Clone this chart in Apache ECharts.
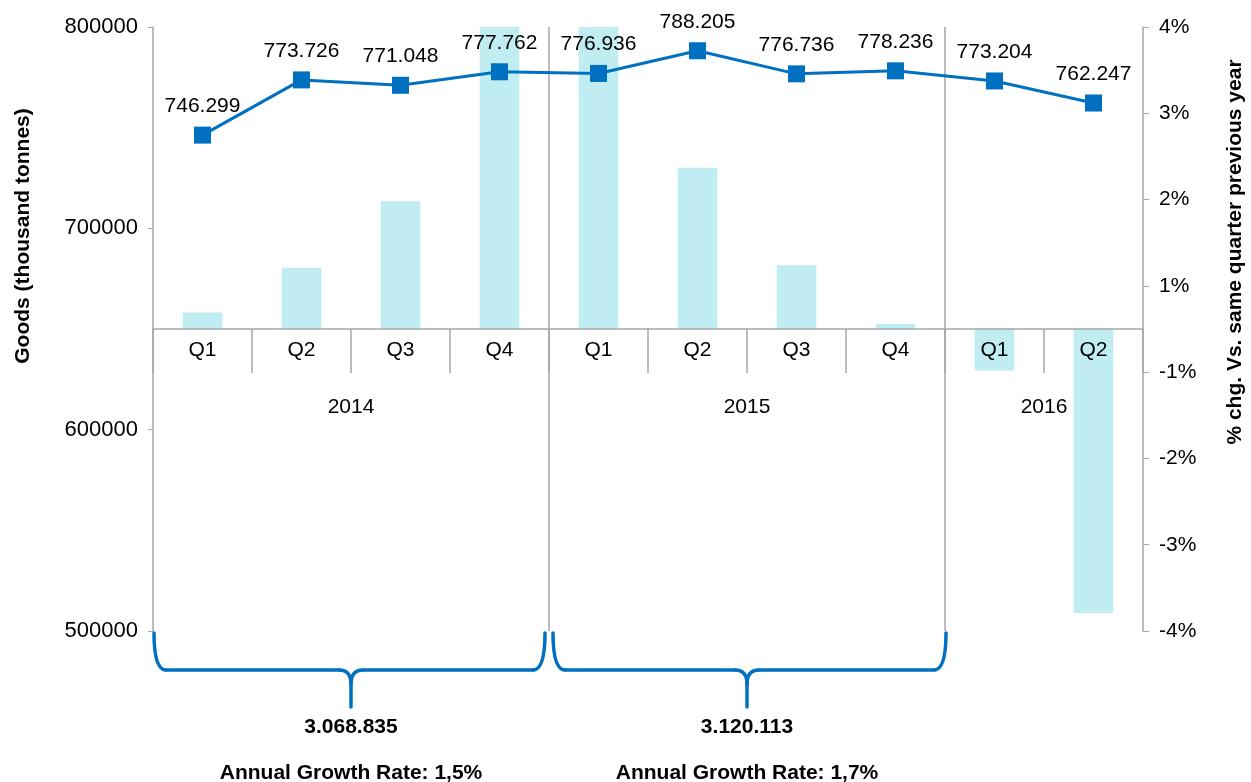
<!DOCTYPE html>
<html>
<head>
<meta charset="utf-8">
<script src="https://cdn.jsdelivr.net/npm/echarts@6/dist/echarts.min.js"></script>
<style>
html, body { margin: 0; padding: 0; background: #fff; }
#chart { width: 1251px; height: 782px; }
</style>
</head>
<body>
<div id="chart"></div>
<script>
// data
const quarters = ['Q1', 'Q2', 'Q3', 'Q4', 'Q1', 'Q2', 'Q3', 'Q4', 'Q1', 'Q2'];
const goods = [746299, 773726, 771048, 777762, 776936, 788205, 776736, 778236, 773204, 762247];
const growthPct = [0.19, 0.71, 1.48, 3.63, 4.10, 1.87, 0.74, 0.06, -0.48, -3.29];
const years = ['2014', '2015', '2016'];
const yearStart = [0, 4, 8];
const yearEnd = [3, 7, 9];
const annualTotals = ['3.068.835', '3.120.113'];
const annualGrowth = ['Annual Growth Rate: 1,5%', 'Annual Growth Rate: 1,7%'];
const rightTickLabels = ['-4%', '-3%', '-2%', '-1%', '1%', '2%', '3%', '4%'];

const font = 'Liberation Sans';
const gray = '#A6A6A6';
const blue = '#0070C0';

function dotted(v) {
  return String(v).replace(/\B(?=(\d{3})+(?!\d))/g, '.');
}

var chart = echarts.init(document.getElementById('chart'));
chart.setOption({
  animation: false,
  textStyle: { fontFamily: font },
  grid: { left: 153, right: 108, top: 27, bottom: 151 },
  xAxis: [{
    type: 'category',
    data: quarters,
    position: 'bottom',
    z: 5,
    axisLine: { onZero: false, lineStyle: { color: gray, width: 1.5 } },
    axisTick: { show: true, alignWithLabel: false, length: 44, lineStyle: { color: gray, width: 1.5 } },
    axisLabel: { color: '#000', fontSize: 21, margin: 11, interval: 0 }
  }],
  yAxis: [{
    type: 'value',
    position: 'left',
    min: 500000, max: 800000, interval: 100000,
    axisLine: { show: true, lineStyle: { color: gray, width: 1.5 } },
    axisTick: { show: true, length: 5, lineStyle: { color: gray } },
    axisLabel: { color: '#000', fontSize: 22, margin: 15,
      formatter: function (v) { return String(v); } },
    splitLine: { show: false }
  }, {
    type: 'value',
    position: 'right',
    min: -3.5, max: 3.5, interval: 1,
    axisLine: { show: true, lineStyle: { color: gray, width: 1.5 } },
    axisTick: { show: true, length: 6, lineStyle: { color: gray } },
    axisLabel: {
      color: '#000', fontSize: 21, margin: 16,
      formatter: function (v) { return rightTickLabels[Math.round(v + 3.5)]; }
    },
    splitLine: { show: false }
  }],
  series: [{
    type: 'bar',
    yAxisIndex: 1,
    data: growthPct,
    barWidth: '40%',
    itemStyle: { color: '#BFEDF1' },
    z: 2
  }, {
    type: 'line',
    yAxisIndex: 0,
    data: goods,
    symbol: 'rect',
    symbolSize: 17,
    lineStyle: { color: blue, width: 3 },
    itemStyle: { color: blue },
    label: {
      show: true, position: 'top', distance: 10,
      fontSize: 21, color: '#000',
      formatter: function (p) { return dotted(p.value); }
    },
    z: 4
  }]
});

function px(i) { return chart.convertToPixel({ xAxisIndex: 0 }, i); }
var band = px(1) - px(0);
var zeroY = chart.convertToPixel({ yAxisIndex: 1 }, 0);
var topY = chart.convertToPixel({ yAxisIndex: 0 }, 800000);
var botY = chart.convertToPixel({ yAxisIndex: 0 }, 500000);

// lift the quarter axis up to the 0% line of the right axis
chart.setOption({ xAxis: [{ offset: zeroY - botY }] });

// annotations: year separators, year labels, braces and totals
function seg(x1, y1, x2, y2) {
  return { type: 'line', shape: { x1: x1, y1: y1, x2: x2, y2: y2 },
    style: { stroke: blue, lineWidth: 3.5, lineCap: 'round' } };
}
function curve(x1, y1, cx, cy, x2, y2) {
  return { type: 'bezierCurve', shape: { x1: x1, y1: y1, cpx1: cx, cpy1: cy, x2: x2, y2: y2 },
    style: { stroke: blue, lineWidth: 3.5, fill: null, lineCap: 'round' } };
}

var g = [];
for (var k = 0; k < years.length; k++) {
  var lb = px(yearStart[k]) - band / 2;
  var rb = px(yearEnd[k]) + band / 2;
  if (k > 0) {
    g.push({ type: 'line', z: 1, shape: { x1: lb, y1: topY, x2: lb, y2: botY },
      style: { stroke: gray, lineWidth: 1.5 } });
  }
  g.push({ type: 'text', x: (px(yearStart[k]) + px(yearEnd[k])) / 2, y: zeroY + 78,
    style: { text: years[k], fontSize: 21, fontFamily: font, fill: '#000',
      textAlign: 'center', textVerticalAlign: 'middle' } });
  if (k < annualTotals.length) {
    var xL = k === 0 ? lb + 1 : lb + 4;
    var xR = k === annualTotals.length - 1 ? rb + 1 : rb - 4;
    var xm = (lb + rb) / 2;
    var y0 = botY + 2, y1 = botY + 39, y2 = botY + 76;
    g.push(curve(xL, y0, xL, y1, xL + 12, y1));
    g.push(seg(xL + 12, y1, xm - 12, y1));
    g.push(curve(xm - 12, y1, xm, y1, xm, y1 + 14));
    g.push(curve(xm + 12, y1, xm, y1, xm, y1 + 14));
    g.push(seg(xm, y1 + 14, xm, y2));
    g.push(seg(xm + 12, y1, xR - 12, y1));
    g.push(curve(xR - 12, y1, xR, y1, xR, y0));
    g.push({ type: 'text', x: xm, y: botY + 96,
      style: { text: annualTotals[k], fontSize: 21, fontWeight: 'bold', fontFamily: font,
        fill: '#000', textAlign: 'center', textVerticalAlign: 'middle' } });
    g.push({ type: 'text', x: xm, y: botY + 142,
      style: { text: annualGrowth[k], fontSize: 21, fontWeight: 'bold', fontFamily: font,
        fill: '#000', textAlign: 'center', textVerticalAlign: 'middle' } });
  }
}
// axis titles
g.push({ type: 'text', x: 23, y: 236, rotation: Math.PI / 2,
  style: { text: 'Goods (thousand tonnes)', fontSize: 21, fontWeight: 'bold', fontFamily: font,
    fill: '#000', textAlign: 'center', textVerticalAlign: 'middle' } });
g.push({ type: 'text', x: 1235, y: 252, rotation: Math.PI / 2,
  style: { text: '% chg. Vs. same quarter previous year', fontSize: 21, fontWeight: 'bold',
    fontFamily: font, fill: '#000', textAlign: 'center', textVerticalAlign: 'middle' } });

chart.setOption({ graphic: g });
</script>
</body>
</html>
